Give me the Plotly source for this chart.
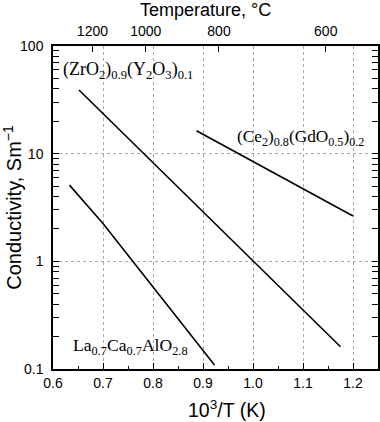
import plotly.graph_objects as go

# data
zr_x = [0.652, 1.175]
zr_y = [39.0, 0.161]
ce_x = [0.887, 1.200]
ce_y = [16.3, 2.64]
la_x = [0.633, 0.700, 0.923]
la_y = [5.1, 2.25, 0.109]

temp_c = [1200, 1000, 800, 600]
temp_pos = [1000.0 / (t + 273.0) for t in temp_c]

line = dict(color="black", width=1.6)
fig = go.Figure()
for xs, ys in [(zr_x, zr_y), (ce_x, ce_y), (la_x, la_y)]:
    fig.add_trace(go.Scatter(x=xs, y=ys, mode="lines", line=line, showlegend=False, hoverinfo="skip"))
# dummy trace for top axis
fig.add_trace(go.Scatter(x=[0.6, 1.25], y=[1, 1], xaxis="x2", mode="lines",
                         line=dict(width=0), showlegend=False, hoverinfo="skip"))

sans = "Liberation Sans, Arial, sans-serif"
serif = "Liberation Serif, Times New Roman, serif"
grid = dict(showgrid=True, gridcolor="#a8a8a8", griddash="3px,3px", gridwidth=1)

fig.update_layout(
    width=380, height=422,
    margin=dict(l=53, r=2, t=46, b=53),
    paper_bgcolor="white", plot_bgcolor="white",
    font=dict(family=sans, color="black", size=14),
    hovermode=False,
    xaxis=dict(
        range=[0.6, 1.25], tickmode="linear", tick0=0.6, dtick=0.1, tickformat=".1f",
        ticks="inside", ticklen=6, tickwidth=1.2, tickcolor="black",
        showline=True, linecolor="black", linewidth=1.5, mirror=False,
        zeroline=False, automargin=False, **grid,
        minor=dict(dtick=0.05, ticks="inside", ticklen=3, tickcolor="black", showgrid=False),
        tickfont=dict(size=14), ticklabelstandoff=0,
    ),
    xaxis2=dict(
        overlaying="x", side="top", range=[0.6, 1.25], tickmode="array",
        tickvals=temp_pos, ticktext=[str(t) for t in temp_c],
        ticks="inside", ticklen=6, tickwidth=1.2, tickcolor="black",
        showline=True, linecolor="black", linewidth=1.5,
        showgrid=False, zeroline=False, automargin=False,
        tickfont=dict(size=14), ticklabelstandoff=3,
    ),
    yaxis=dict(
        type="log", range=[-1, 2], dtick=1,
        ticks="inside", ticklen=6, tickwidth=1.2, tickcolor="black",
        showline=True, linecolor="black", linewidth=1.5, mirror="allticks",
        zeroline=False, automargin=False, **grid,
        minor=dict(dtick="D1", ticks="inside", ticklen=3, tickcolor="black", showgrid=False),
        title=dict(text="Conductivity, Sm<sup>\u22121</sup>", font=dict(size=20), standoff=3),
        tickfont=dict(size=14), ticklabelstandoff=5,
    ),
)

# axis titles placed as annotations (reference centres them off the plot centre)
fig.add_annotation(x=0.468, y=1.1115, xref="paper", yref="paper", xanchor="center", yanchor="middle",
                   text="Temperature, \u00b0C", showarrow=False, font=dict(family=sans, size=18, color="black"))
fig.add_annotation(x=0.535, y=-0.125, xref="paper", yref="paper", xanchor="center", yanchor="middle",
                   text="10<sup>3</sup>/T (K)", showarrow=False, font=dict(family=sans, size=19.5, color="black"))

fig.add_annotation(x=0.615, y=1.77, xref="x", yref="y", yanchor="middle", xanchor="left",
                   text="(ZrO<sub>2</sub>)<sub>0.9</sub>(Y<sub>2</sub>O<sub>3</sub>)<sub>0.1</sub>",
                   showarrow=False, font=dict(family=serif, size=18, color="black"))
fig.add_annotation(x=1.094, y=1.145, xref="x", yref="y", yanchor="middle", xanchor="center",
                   text="(Ce<sub>2</sub>)<sub>0.8</sub>(GdO<sub>0.5</sub>)<sub>0.2</sub>",
                   showarrow=False, font=dict(family=serif, size=17.3, color="black"))
fig.add_annotation(x=0.636, y=-0.795, xref="x", yref="y", yanchor="middle", xanchor="left",
                   text="La<sub>0.7</sub>Ca<sub>0.7</sub>AlO<sub>2.8</sub>",
                   showarrow=False, font=dict(family=serif, size=17.6, color="black"))

fig.write_html("out.html", post_script="document.body.style.margin='0';",
               config={"displayModeBar": False})
